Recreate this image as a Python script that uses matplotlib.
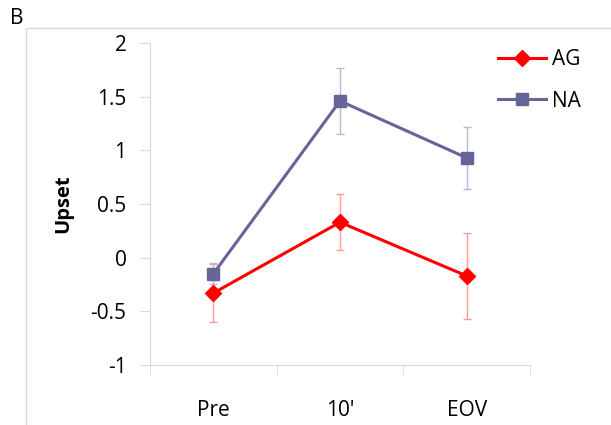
import numpy as np
import matplotlib.pyplot as plt
from matplotlib.patches import Rectangle

# data
categories = ["Pre", "10'", "EOV"]
ag_mean = [-0.33, 0.33, -0.17]
ag_err = [0.27, 0.26, 0.40]
na_mean = [-0.15, 1.46, 0.93]
na_err = [0.10, 0.31, 0.29]

ag_color = '#ff0000'
na_color = '#65659a'
grid_gray = '#d9d9d9'

plt.rcParams['font.family'] = ['Open Sans', 'DejaVu Sans']

fig = plt.figure(figsize=(6.11, 4.25), dpi=100)
ax = fig.add_axes([150/611, 60/425, 380/611, 322/425])

x = np.arange(len(categories))

ax.errorbar(x, ag_mean, yerr=ag_err, fmt='none', ecolor='#ff9a9a', elinewidth=1, capsize=3, capthick=1)
ax.errorbar(x, na_mean, yerr=na_err, fmt='none', ecolor='#b8b8d4', elinewidth=1, capsize=3, capthick=1)
ax.plot(x, ag_mean, color=ag_color, lw=2.2, marker='D', ms=8, label='AG')
ax.plot(x, na_mean, color=na_color, lw=2.2, marker='s', ms=9, label='NA')

ax.set_xlim(-0.5, 2.5)
ax.set_ylim(-1, 2)
ax.set_yticks(np.arange(-1, 2.01, 0.5))
ax.set_yticklabels(['-1', '-0.5', '0', '0.5', '1', '1.5', '2'])
ax.set_xticks(x)
ax.set_xticklabels(categories)
ax.set_xticks([-0.5, 0.5, 1.5, 2.5], minor=True)
ax.tick_params(axis='x', which='major', length=0, pad=25, labelsize=15)
ax.tick_params(axis='x', which='minor', length=7, color=grid_gray)
ax.tick_params(axis='y', length=7, color=grid_gray, labelsize=15, pad=10)
ax.spines['top'].set_visible(False)
ax.spines['right'].set_visible(False)
ax.spines['left'].set_color(grid_gray)
ax.spines['bottom'].set_color(grid_gray)
ax.set_ylabel('Upset', fontsize=14.5, fontweight='bold', labelpad=12)

ax.legend(loc='upper left', bbox_to_anchor=(0.866, 1.04), frameon=False, fontsize=15,
          handlelength=2.3, labelspacing=1.0, handletextpad=0.3)

# outer frame and panel letter
fig.patches.append(Rectangle((26/611, -0.1), 1.2, (425-28)/425 + 0.1, transform=fig.transFigure,
                             fill=False, edgecolor=grid_gray, lw=1))
fig.text(10/611, 1 - 18/425, 'B', fontsize=15, va='center', ha='left')

fig.savefig('out.png', dpi=100)
